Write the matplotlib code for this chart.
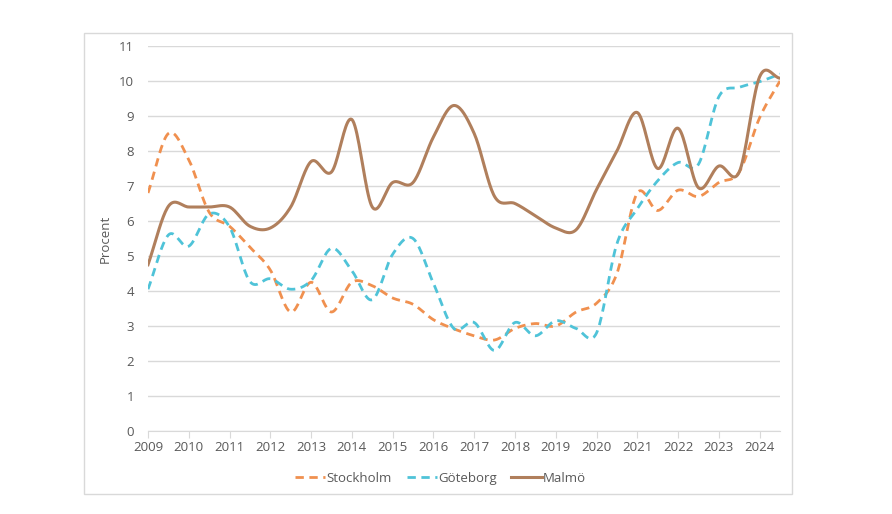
import numpy as np
import matplotlib
matplotlib.use('Agg')
import matplotlib.pyplot as plt
from matplotlib.patches import Rectangle

plt.rcParams['font.family'] = ['Open Sans', 'DejaVu Sans']

# halvårsvärden 2009 - 2024
years = [2009 + 0.5 * i for i in range(32)]
stockholm = [6.8, 8.5, 7.75, 6.25, 5.85, 5.25, 4.6, 3.4, 4.25, 3.4, 4.25, 4.15,
             3.8, 3.62, 3.18, 2.92, 2.72, 2.6, 2.93, 3.07, 3.0, 3.4, 3.65, 4.5,
             6.8, 6.3, 6.88, 6.7, 7.1, 7.4, 8.95, 10.0]
goteborg = [4.05, 5.6, 5.28, 6.2, 5.83, 4.27, 4.35, 4.05, 4.3, 5.22, 4.58, 3.75,
            5.05, 5.5, 4.22, 2.93, 3.1, 2.3, 3.1, 2.72, 3.15, 2.93, 2.8, 5.35,
            6.35, 7.15, 7.67, 7.62, 9.55, 9.82, 9.98, 10.2]
malmo = [4.75, 6.42, 6.4, 6.4, 6.4, 5.85, 5.8, 6.4, 7.7, 7.4, 8.9, 6.4,
         7.1, 7.1, 8.4, 9.3, 8.5, 6.7, 6.5, 6.15, 5.8, 5.75, 6.9, 8.0,
         9.1, 7.5, 8.65, 6.95, 7.57, 7.4, 10.12, 10.08]
yticks = list(range(0, 12))
xticks = list(range(2009, 2025))


def smooth(x, y, n=20):
    # Excel-liknande utjämnad linje (catmull-rom)
    x = np.asarray(x, float)
    y = np.asarray(y, float)
    px = np.concatenate([[2 * x[0] - x[1]], x, [2 * x[-1] - x[-2]]])
    py = np.concatenate([[2 * y[0] - y[1]], y, [2 * y[-1] - y[-2]]])
    xs, ys = [], []
    t = np.linspace(0, 1, n, endpoint=False)
    for i in range(1, len(px) - 2):
        for p, out in ((px, xs), (py, ys)):
            p0, p1, p2, p3 = p[i - 1], p[i], p[i + 1], p[i + 2]
            c1 = p1 + (p2 - p0) / 6
            c2 = p2 - (p3 - p1) / 6
            out.extend((1 - t) ** 3 * p1 + 3 * (1 - t) ** 2 * t * c1
                       + 3 * (1 - t) * t ** 2 * c2 + t ** 3 * p2)
    xs.append(x[-1])
    ys.append(y[-1])
    return xs, ys


fig = plt.figure(figsize=(8.92, 5.14), dpi=100)
fig.patches.append(Rectangle((84 / 892, 1 - 494 / 514), 708 / 892, 461 / 514,
                             transform=fig.transFigure, fill=False,
                             edgecolor='#d9d9d9', linewidth=1))
ax = fig.add_axes([148 / 892, 1 - 431 / 514, 632 / 892, 385 / 514])

c_sto = '#f0904f'
c_got = '#4fc3d8'
c_mal = '#b07f5c'
ax.plot(*smooth(years, stockholm), color=c_sto, lw=2, ls=(0, (3, 2)), label='Stockholm')
ax.plot(*smooth(years, goteborg), color=c_got, lw=2, ls=(0, (3, 2)), label='Göteborg')
ax.plot(*smooth(years, malmo), color=c_mal, lw=2.2, label='Malmö')

ax.set_xlim(2009, 2024.5)
ax.set_ylim(0, 11)
ax.set_yticks(yticks)
ax.set_xticks(xticks)
ax.grid(axis='y', color='#d9d9d9', lw=1)
ax.set_axisbelow(True)
for s in ['top', 'right', 'left']:
    ax.spines[s].set_visible(False)
ax.spines['bottom'].set_color('#d9d9d9')
ax.tick_params(axis='y', length=0, pad=10, labelsize=9.5, labelcolor='#595959')
ax.tick_params(axis='x', length=5, color='#d9d9d9', pad=2, labelsize=9.5, labelcolor='#595959')
ax.set_ylabel('Procent', fontsize=9.5, color='#595959')
ax.yaxis.set_label_coords(-0.058, 0.5)

ax.legend(loc='upper center', bbox_to_anchor=(0.463, -0.075), ncol=3, frameon=False,
          fontsize=9.5, labelcolor='#595959', handlelength=2.3, handletextpad=0.1,
          columnspacing=1.1)

fig.savefig('out.png', dpi=100)
